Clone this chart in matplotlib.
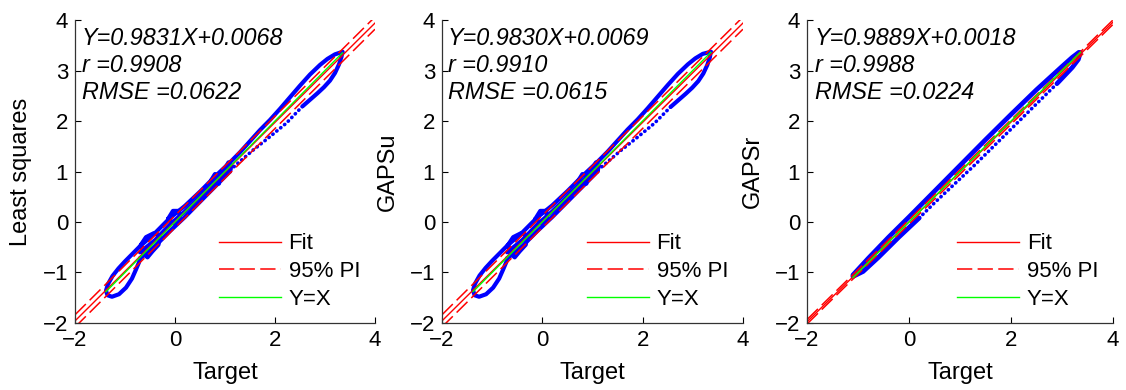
import numpy as np
import matplotlib
matplotlib.use("Agg")
import matplotlib.pyplot as plt

plt.rcParams['font.family'] = ['Liberation Sans', 'DejaVu Sans']

# Regression summary for each method
methods = ['Least squares', 'GAPSu', 'GAPSr']
slopes = [0.9831, 0.9830, 0.9889]
intercepts = [0.0068, 0.0069, 0.0018]
r_values = [0.9908, 0.9910, 0.9988]
rmse_values = [0.0622, 0.0615, 0.0224]
pi_half = [0.122, 0.121, 0.044]   # half width of the 95% prediction band

# Least squares: scatter trail outline (target, estimate)
ls_traces = [
    # top loop, upper branch
    ([1.10, 1.30, 1.50, 1.70, 1.90, 2.10, 2.30, 2.50, 2.70, 2.90, 3.05, 3.20, 3.35],
     [1.18, 1.38, 1.60, 1.82, 2.02, 2.24, 2.47, 2.70, 2.92, 3.11, 3.23, 3.32, 3.37]),
    # top loop, lower branch (dense part)
    ([3.35, 3.33, 3.28, 3.20, 3.10, 2.98, 2.85, 2.70, 2.55],
     [3.37, 3.27, 3.12, 2.95, 2.80, 2.67, 2.55, 2.42, 2.29]),
    # middle band
    ([-0.70, -0.40, -0.10, 0.20, 0.50, 0.80, 1.10],
     [-0.48, -0.22, 0.08, 0.32, 0.60, 0.90, 1.18]),
    ([-0.70, -0.40, -0.10, 0.20, 0.50, 0.80, 1.10],
     [-0.60, -0.36, -0.05, 0.21, 0.50, 0.80, 1.09]),
    ([-0.70, -0.40, -0.10, 0.20, 0.50, 0.80, 1.10],
     [-0.72, -0.48, -0.18, 0.10, 0.40, 0.70, 1.00]),
    # lower-left loop
    ([-0.70, -0.85, -1.00, -1.13, -1.25, -1.34, -1.38, -1.35, -1.26, -1.12, -0.98, -0.86, -0.78, -0.72, -0.70],
     [-0.48, -0.63, -0.78, -0.92, -1.07, -1.23, -1.36, -1.45, -1.48, -1.43, -1.30, -1.12, -0.94, -0.80, -0.72]),
    # blobs along the band
    ([-0.68, -0.58, -0.42, -0.30, -0.33, -0.45, -0.55, -0.64, -0.68],
     [-0.45, -0.30, -0.22, -0.28, -0.45, -0.58, -0.70, -0.62, -0.45]),
    ([-0.14, -0.04, 0.08, 0.10, 0.00, -0.14],
     [0.06, 0.22, 0.22, 0.05, -0.04, 0.06]),
    ([0.72, 0.80, 0.90, 0.88, 0.76, 0.72],
     [0.82, 0.95, 0.92, 0.76, 0.72, 0.82]),
    ([1.00, 1.07, 1.13, 1.10, 1.00],
     [1.06, 1.18, 1.12, 1.00, 1.06]),
]
ls_sparse_x = [2.55, 2.23, 1.90, 1.57, 1.23, 1.10]
ls_sparse_y = [2.29, 1.96, 1.69, 1.43, 1.14, 1.02]

# GAPSu
gu_traces = [
    ([1.10, 1.30, 1.50, 1.70, 1.90, 2.10, 2.30, 2.50, 2.70, 2.90, 3.05, 3.20, 3.36],
     [1.19, 1.39, 1.61, 1.83, 2.03, 2.25, 2.48, 2.71, 2.93, 3.12, 3.24, 3.33, 3.37]),
    ([3.36, 3.34, 3.29, 3.21, 3.11, 2.99, 2.86, 2.71, 2.56],
     [3.37, 3.26, 3.11, 2.94, 2.79, 2.66, 2.54, 2.41, 2.28]),
    ([-0.70, -0.40, -0.10, 0.20, 0.50, 0.80, 1.10],
     [-0.47, -0.21, 0.09, 0.33, 0.61, 0.91, 1.19]),
    ([-0.70, -0.40, -0.10, 0.20, 0.50, 0.80, 1.10],
     [-0.60, -0.36, -0.05, 0.21, 0.50, 0.80, 1.09]),
    ([-0.70, -0.40, -0.10, 0.20, 0.50, 0.80, 1.10],
     [-0.72, -0.48, -0.18, 0.10, 0.40, 0.70, 1.00]),
    ([-0.70, -0.85, -1.00, -1.13, -1.25, -1.34, -1.38, -1.35, -1.26, -1.12, -0.98, -0.86, -0.78, -0.72, -0.70],
     [-0.47, -0.62, -0.77, -0.91, -1.06, -1.22, -1.35, -1.45, -1.48, -1.43, -1.30, -1.12, -0.94, -0.80, -0.72]),
    ([-0.68, -0.58, -0.42, -0.30, -0.33, -0.45, -0.55, -0.64, -0.68],
     [-0.45, -0.30, -0.22, -0.28, -0.45, -0.58, -0.70, -0.62, -0.45]),
    ([-0.14, -0.04, 0.08, 0.10, 0.00, -0.14],
     [0.06, 0.22, 0.22, 0.05, -0.04, 0.06]),
    ([0.72, 0.80, 0.90, 0.88, 0.76, 0.72],
     [0.82, 0.95, 0.92, 0.76, 0.72, 0.82]),
    ([1.00, 1.07, 1.13, 1.10, 1.00],
     [1.06, 1.18, 1.12, 1.00, 1.06]),
]
gu_sparse_x = [2.56, 2.23, 1.90, 1.57, 1.23, 1.10]
gu_sparse_y = [2.28, 1.95, 1.68, 1.42, 1.13, 1.02]

# GAPSr
gr_traces = [
    ([-1.10, -0.80, -0.40, 0.00, 0.50, 1.00, 1.50, 2.00, 2.50, 3.00, 3.20, 3.33],
     [-1.05, -0.72, -0.30, 0.10, 0.61, 1.12, 1.63, 2.13, 2.62, 3.08, 3.26, 3.36]),
    ([3.36, 3.32, 3.20, 3.05, 2.90],
     [3.36, 3.22, 3.06, 2.90, 2.74]),
    ([0.20, -0.20, -0.60, -0.90, -1.10],
     [0.08, -0.30, -0.70, -0.98, -1.08]),
]
gr_sparse_x = [2.90, 2.50, 2.10, 1.70, 1.30, 0.90, 0.50, 0.20]
gr_sparse_y = [2.74, 2.34, 1.94, 1.54, 1.14, 0.76, 0.38, 0.08]

traces = [ls_traces, gu_traces, gr_traces]
sparse = [(ls_sparse_x, ls_sparse_y), (gu_sparse_x, gu_sparse_y), (gr_sparse_x, gr_sparse_y)]

axis_range = [-2, 4]
x_ticks = [-2, 0, 2, 4]
y_ticks = [-2, -1, 0, 1, 2, 3, 4]

fig = plt.figure(figsize=(11.26, 3.9), dpi=100)
positions = [[0.0666, 0.1718, 0.2664, 0.7769],
             [0.3925, 0.1718, 0.2673, 0.7769],
             [0.7167, 0.1718, 0.2718, 0.7769]]
text_x = [0.023, 0.02, 0.026]
blue = (0, 0, 1)
red = (1, 0, 0)
green = (0, 1, 0)

for i, (name, pos) in enumerate(zip(methods, positions)):
    ax = fig.add_axes(pos)
    lw_data = 3.0 if i < 2 else 3.4

    # scatter trail
    for tx, ty in traces[i]:
        ax.plot(tx, ty, color=blue, lw=lw_data, solid_capstyle='round', solid_joinstyle='round')
    sx, sy = sparse[i]
    ax.plot(sx, sy, color=blue, lw=2.6, linestyle=(0, (0.1, 1.3)), dash_capstyle='round')

    # fit and prediction interval
    xf = np.array(axis_range, dtype=float)
    yf = slopes[i] * xf + intercepts[i]
    ax.plot(xf, yf, color=red, lw=1.0, label='Fit')
    ax.plot(xf, yf + pi_half[i], color=red, lw=1.1, dashes=(10, 3.5), label='95% PI')
    ax.plot(xf, yf - pi_half[i], color=red, lw=1.1, dashes=(10, 3.5))

    # identity line over the data range
    all_x = [v for tx, _ in traces[i] for v in tx]
    xr = np.array([min(all_x), max(all_x)])
    ax.plot(xr, xr, color=green, lw=1.0, label='Y=X')

    ax.set_xlim(axis_range)
    ax.set_ylim(axis_range)
    ax.set_xticks(x_ticks)
    ax.set_yticks(y_ticks)
    ax.tick_params(direction='in', length=4, width=0.8, labelsize=16, pad=5)
    for side in ['top', 'right']:
        ax.spines[side].set_visible(False)
    for side in ['left', 'bottom']:
        ax.spines[side].set_linewidth(0.9)
        ax.spines[side].set_color('#333333')

    ax.set_xlabel('Target', fontsize=17)
    ax.set_ylabel(name, fontsize=17)
    ax.xaxis.set_label_coords(0.5, -0.13)
    ax.yaxis.set_label_coords(-0.142, 0.5)

    ax.text(text_x[i], 0.917, f'Y={slopes[i]:.4f}X+{intercepts[i]:.4f}', transform=ax.transAxes,
            fontsize=16.8, style='italic', va='baseline')
    ax.text(text_x[i], 0.827, f'r ={r_values[i]:.4f}', transform=ax.transAxes,
            fontsize=16.8, style='italic', va='baseline')
    ax.text(text_x[i], 0.739, f'RMSE ={rmse_values[i]:.4f}', transform=ax.transAxes,
            fontsize=16.8, style='italic', va='baseline')

    ax.legend(loc='lower right', frameon=False, fontsize=16, handlelength=2.8,
              handletextpad=0.35, labelspacing=0.3, borderaxespad=0.2,
              bbox_to_anchor=(0.995, 0.0))

fig.savefig('out.png', dpi=100)
